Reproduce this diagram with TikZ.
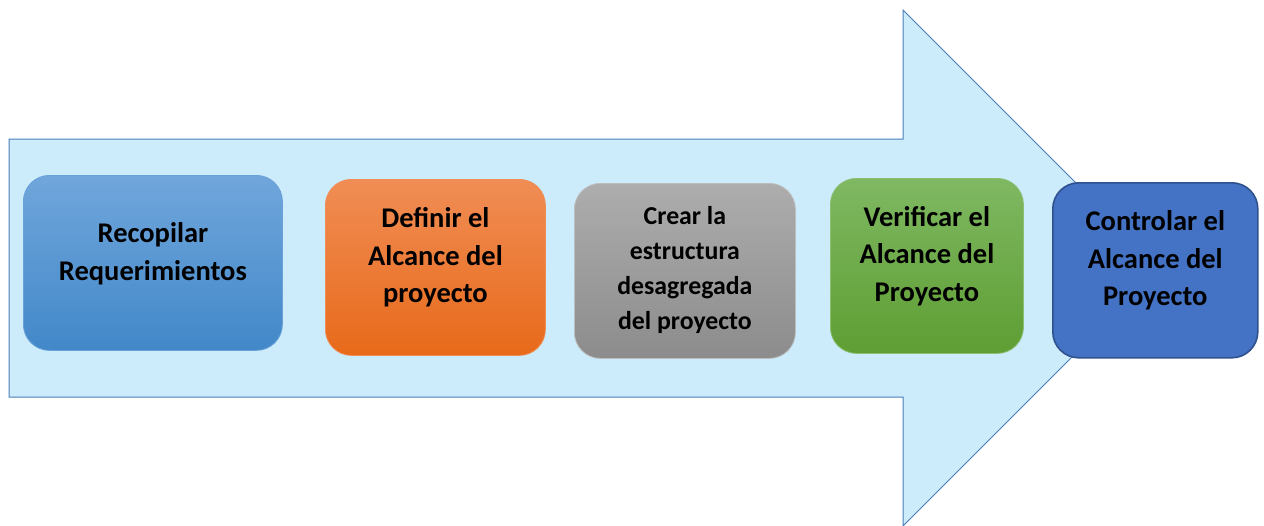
\documentclass[tikz,border=0pt]{standalone}
\usepackage{fontspec}
\setmainfont{Carlito}
\definecolor{arrowfill}{HTML}{CCEBFB}
\definecolor{arrowline}{HTML}{4A7EBB}
\definecolor{bAtop}{HTML}{70A6DB}
\definecolor{bAbot}{HTML}{4288C9}
\definecolor{bBtop}{HTML}{F08D55}
\definecolor{bBbot}{HTML}{E86A1A}
\definecolor{bCtop}{HTML}{ADADAD}
\definecolor{bCbot}{HTML}{8C8C8C}
\definecolor{bDtop}{HTML}{7FB862}
\definecolor{bDbot}{HTML}{5E9E33}
\definecolor{bEfill}{HTML}{4472C4}
\definecolor{bEline}{HTML}{2F528F}
\tikzset{
  stepbox/.style={rounded corners=26pt, inner sep=0pt, anchor=north west},
  boxtext/.style={align=center, font=\fontsize{28.5}{37.5}\selectfont\bfseries, text=black, inner sep=0pt},
  boxtextsmall/.style={align=center, font=\fontsize{25.8}{35}\selectfont\bfseries, text=black, inner sep=0pt},
}
\begin{document}
\begin{tikzpicture}[x=1pt,y=-1pt]
\useasboundingbox (0,0) rectangle (1264,525);
\fill[white] (0,0) rectangle (1264,525);
% big arrow
\draw[arrowline, fill=arrowfill, line width=1pt]
  (9,139) -- (903,139) -- (903,10) -- (1161,268) -- (903,526) -- (903,397) -- (9,397) -- cycle;
% boxes
\node[stepbox, minimum width=259pt, minimum height=175pt, top color=bAtop, bottom color=bAbot, draw=bAtop!85!bAbot, line width=0.8pt] (b1) at (23,175) {};
\node[stepbox, minimum width=220pt, minimum height=176pt, top color=bBtop, bottom color=bBbot, draw=bBtop, line width=0.8pt] (b2) at (325,179) {};
\node[stepbox, minimum width=221pt, minimum height=175pt, top color=bCtop, bottom color=bCbot, draw=bCtop!80!white, line width=0.8pt] (b3) at (574,183) {};
\node[stepbox, minimum width=193pt, minimum height=175pt, top color=bDtop, bottom color=bDbot, draw=bDtop!90!white, line width=0.8pt] (b4) at (830,178) {};
\node[stepbox, minimum width=205pt, minimum height=175pt, fill=bEfill, draw=bEline, line width=1.6pt] (b5) at (1052,182) {};
% texts
\node[boxtext] (t1) at ([yshift=9pt]b1.center) {Recopilar\\Requerimientos};
\node[boxtext] (t2) at ([yshift=10pt]b2.center) {Definir el\\Alcance del\\proyecto};
\node[boxtextsmall] (t3) at ([yshift=1pt]b3.center) {Crear la\\estructura\\desagregada\\del proyecto};
\node[boxtext] (t4) at ([yshift=10pt]b4.center) {Verificar el\\Alcance del\\Proyecto};
\node[boxtext] (t5) at ([yshift=10pt]b5.center) {Controlar el\\Alcance del\\Proyecto};
\end{tikzpicture}
\end{document}
